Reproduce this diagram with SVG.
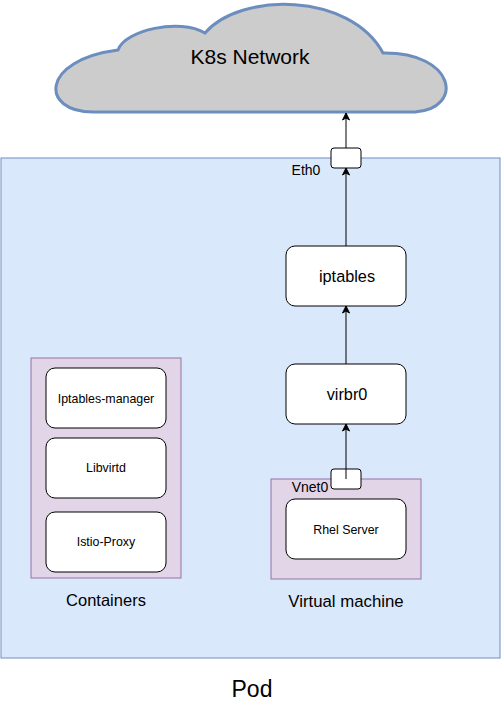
<svg xmlns="http://www.w3.org/2000/svg" width="501" height="701" viewBox="0 0 501 701">
<defs>
<marker id="arr" markerWidth="10" markerHeight="10" refX="8" refY="5" orient="auto" markerUnits="userSpaceOnUse">
<path d="M1,1.5 L8,5 L1,8.5 L3,5 Z" fill="#000" stroke="#000" stroke-width="1"/>
</marker>
</defs>
<style>
text{font-family:"Liberation Sans",Arial,sans-serif;fill:#000;text-anchor:middle}
.box{fill:#fff;stroke:#000;stroke-width:1}
.purple{fill:#e1d5e7;stroke:#9673a6;stroke-width:1}
.port{fill:#fff;stroke:#000;stroke-width:1}
.conn{stroke:#000;stroke-width:1;fill:none;marker-end:url(#arr)}
</style>
<rect width="501" height="701" fill="#fff"/>
<g id="pod">
<rect x="1" y="158" width="499" height="500" fill="#dae8fc" stroke="#6c8ebf" stroke-width="1"/>
<text x="252" y="697" font-size="23">Pod</text>
</g>
<g id="cloud">
<path d="M118 50 C125 30 180 18 205 33 C240 -8 350 -8 383 53 C455 52 465 108 415 112 L93 112 C40 112 40 60 118 50 Z" fill="#cccccc" stroke="#6c8ebf" stroke-width="3"/>
<text x="250" y="64" font-size="21">K8s Network</text>
</g>
<g id="containers">
<rect class="purple" x="31" y="358" width="150" height="220"/>
<text x="106" y="606" font-size="16.5">Containers</text>
</g>
<g id="iptables-manager">
<rect class="box" x="46" y="368" width="120" height="60" rx="9"/>
<text x="106" y="403" font-size="12.4">Iptables-manager</text>
</g>
<g id="libvirtd">
<rect class="box" x="46" y="438" width="120" height="60" rx="9"/>
<text x="106" y="472" font-size="12.4">Libvirtd</text>
</g>
<g id="istio-proxy">
<rect class="box" x="46" y="512" width="120" height="60" rx="9"/>
<text x="106" y="546" font-size="12.4">Istio-Proxy</text>
</g>
<g id="vm">
<rect class="purple" x="271" y="479" width="150" height="100"/>
<text x="346" y="607" font-size="16.8">Virtual machine</text>
</g>
<g id="rhel">
<rect class="box" x="286" y="499" width="120" height="60" rx="9"/>
<text x="346" y="534" font-size="12.4">Rhel Server</text>
</g>
<g id="iptables">
<rect class="box" x="286" y="246" width="120" height="60" rx="9"/>
<text x="347" y="282" font-size="16.3">iptables</text>
</g>
<g id="virbr0">
<rect class="box" x="286" y="364" width="120" height="60" rx="9"/>
<text x="347" y="400" font-size="16.3">virbr0</text>
</g>
<g id="eth0">
<rect class="port" x="331" y="148" width="30" height="20" rx="3"/>
<text x="306" y="175" font-size="14">Eth0</text>
</g>
<g id="vnet0">
<rect class="port" x="331" y="469" width="30" height="20" rx="3"/>
<text x="310" y="492" font-size="14">Vnet0</text>
</g>
<g id="connectors">
<line class="conn" x1="346" y1="148" x2="346" y2="113"/>
<line class="conn" x1="346" y1="246" x2="346" y2="168"/>
<line class="conn" x1="346" y1="364" x2="346" y2="306"/>
<line class="conn" x1="346" y1="479" x2="346" y2="424"/>
</g>
</svg>
